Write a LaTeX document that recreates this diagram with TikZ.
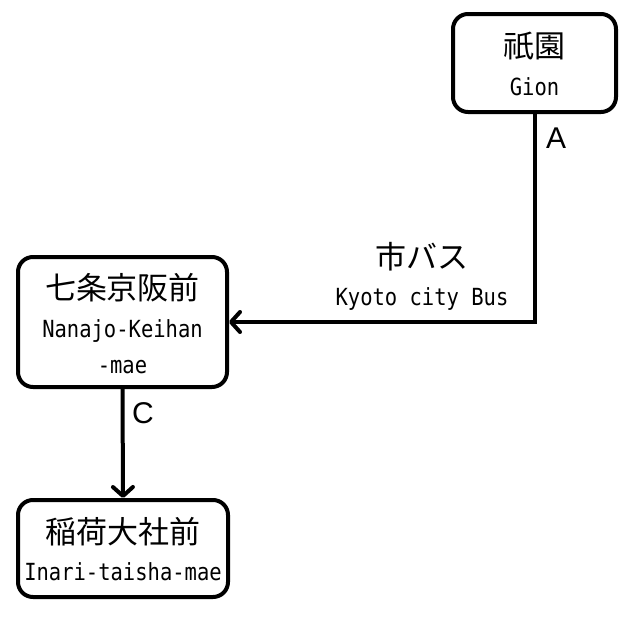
\documentclass[tikz,border=0pt]{standalone}
\usepackage{fontspec}
\usetikzlibrary{arrows.meta}
\newfontfamily\jpfont{Noto Sans CJK JP}
\newfontfamily\monofont{DejaVu Sans Mono}
\newfontfamily\labfont{Liberation Sans}
\newcommand\entall[1]{\scalebox{1}[1.15]{#1}}
\tikzset{
  stationbox/.style={draw, line width=4pt, rounded corners=15pt, fill=white, inner sep=0pt},
  jptext/.style={font=\jpfont\fontsize{31}{31}\selectfont, inner sep=0pt, anchor=center},
  entext/.style={font=\monofont\fontsize{20.5}{20.5}\selectfont, inner sep=0pt, anchor=base},
  routetext/.style={font=\labfont\fontsize{30}{30}\selectfont, inner sep=0pt, anchor=base},
  conn/.style={line width=4pt, -{Straight Barb[length=9pt,width=20pt,line cap=round,line join=round]}},
}
\begin{document}
\begin{tikzpicture}[x=1pt,y=-1pt]
\useasboundingbox (0,0) rectangle (640,616);
% boxes
\node[stationbox, minimum width=163pt, minimum height=98pt] (gion) at (534.5,63) {};
\node[stationbox, minimum width=209pt, minimum height=130pt] (nanajo) at (122.5,322) {};
\node[stationbox, minimum width=210pt, minimum height=97pt] (inari) at (123,548.5) {};
% connectors
\draw[conn] (gion.south) |- (nanajo.east);
\draw[conn] (nanajo.south) -- (inari.north);
% texts
\node[jptext] (gionjp) at (534.5,46) {祇園};
\node[entext] (gionen) at (534.5,95) {\entall{Gion}};
\node[jptext] (nanajojp) at (122.5,288) {七条京阪前};
\node[entext] (nanajoen1) at (122.5,337) {\entall{Nanajo-Keihan}};
\node[entext] (nanajoen2) at (122.5,373) {\entall{-mae}};
\node[jptext] (inarijp) at (123,532) {稲荷大社前};
\node[entext] (inarien) at (123,580) {\entall{Inari-taisha-mae}};
\node[jptext] (busjp) at (422,257) {市バス};
\node[entext] (busen) at (422,305) {\entall{Kyoto city Bus}};
\node[routetext] (labA) at (556,148) {A};
\node[routetext] (labC) at (143,423) {C};
\end{tikzpicture}
\end{document}
